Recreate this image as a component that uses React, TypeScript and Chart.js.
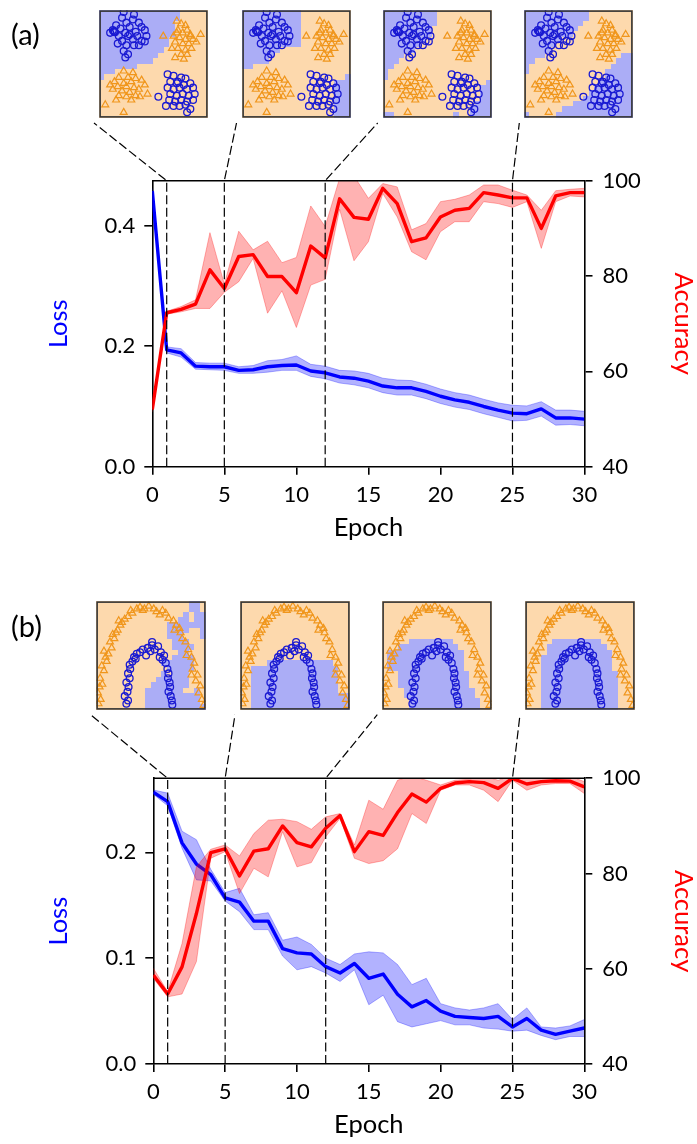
import React, { useEffect, useRef } from 'react';
import { Chart, registerables } from 'chart.js';

Chart.register(...registerables);

const FONT = 'Lato, "Open Sans", "DejaVu Sans", sans-serif';
const PAGE_W = 697;
const PAGE_H = 1144;

// ---------- main chart data ----------
const EPOCHS = [0, 1, 2, 3, 4, 5, 6, 7, 8, 9, 10, 11, 12, 13, 14, 15, 16, 17, 18, 19, 20, 21, 22, 23, 24, 25, 26, 27, 28, 29, 30];
const X_TICKS = [0, 5, 10, 15, 20, 25, 30];
const ACC_TICKS = [40, 60, 80, 100];
const MARK_EPOCHS = [1, 5, 12, 25];

// panel (a)
const A_LOSS_TICKS = [0, 0.2, 0.4];
const A_LOSS_MAX = 0.475;
const A_LOSS = [0.458, 0.194, 0.189, 0.167, 0.166, 0.166, 0.160, 0.161, 0.166, 0.168, 0.169, 0.159, 0.156, 0.149, 0.147, 0.142, 0.134, 0.131, 0.131, 0.125, 0.117, 0.111, 0.107, 0.100, 0.094, 0.089, 0.088, 0.096, 0.081, 0.081, 0.079];
const A_LOSS_HI = [0.462, 0.199, 0.196, 0.173, 0.172, 0.172, 0.166, 0.168, 0.176, 0.178, 0.184, 0.170, 0.167, 0.160, 0.159, 0.155, 0.147, 0.144, 0.143, 0.137, 0.129, 0.123, 0.119, 0.112, 0.106, 0.102, 0.101, 0.108, 0.094, 0.094, 0.092];
const A_LOSS_LO = [0.454, 0.189, 0.182, 0.162, 0.161, 0.160, 0.155, 0.155, 0.157, 0.160, 0.160, 0.150, 0.146, 0.139, 0.136, 0.131, 0.123, 0.119, 0.119, 0.113, 0.105, 0.099, 0.095, 0.088, 0.082, 0.076, 0.077, 0.084, 0.069, 0.070, 0.068];
const A_ACC = [52.0, 72.3, 73.0, 74.1, 81.3, 77.4, 84.1, 84.5, 79.9, 79.9, 76.5, 86.3, 83.8, 96.2, 92.3, 91.9, 98.4, 95.2, 87.2, 88.0, 92.4, 93.8, 94.2, 97.5, 97.0, 96.4, 96.4, 90.0, 96.8, 97.5, 97.5];
const A_ACC_HI = [52.5, 72.6, 73.6, 75.0, 89.1, 78.3, 89.4, 85.5, 87.3, 82.8, 83.9, 94.7, 90.4, 100.5, 101.0, 96.3, 99.4, 98.7, 89.7, 91.0, 95.6, 96.1, 97.0, 99.1, 99.1, 98.0, 97.0, 93.8, 97.9, 98.2, 98.4];
const A_ACC_LO = [51.5, 72.0, 72.5, 73.2, 73.2, 76.6, 78.8, 83.7, 72.2, 76.9, 69.2, 78.1, 79.3, 94.0, 83.2, 87.2, 97.3, 92.4, 85.1, 83.4, 89.3, 91.4, 91.4, 95.6, 95.2, 94.4, 95.6, 85.8, 95.6, 96.8, 96.6];

// panel (b)
const B_LOSS_TICKS = [0, 0.1, 0.2];
const B_LOSS_MAX = 0.27;
const B_LOSS = [0.257, 0.248, 0.209, 0.189, 0.179, 0.157, 0.153, 0.135, 0.135, 0.109, 0.105, 0.104, 0.092, 0.086, 0.095, 0.081, 0.085, 0.066, 0.054, 0.060, 0.050, 0.045, 0.044, 0.043, 0.045, 0.035, 0.043, 0.032, 0.028, 0.031, 0.034];
const B_LOSS_HI = [0.259, 0.256, 0.220, 0.212, 0.184, 0.162, 0.166, 0.141, 0.143, 0.117, 0.120, 0.113, 0.100, 0.094, 0.104, 0.106, 0.105, 0.094, 0.075, 0.081, 0.057, 0.053, 0.051, 0.053, 0.057, 0.042, 0.053, 0.035, 0.034, 0.036, 0.042];
const B_LOSS_LO = [0.255, 0.244, 0.204, 0.174, 0.173, 0.154, 0.144, 0.127, 0.127, 0.102, 0.089, 0.092, 0.086, 0.078, 0.089, 0.056, 0.065, 0.040, 0.035, 0.038, 0.041, 0.037, 0.037, 0.034, 0.033, 0.031, 0.032, 0.027, 0.023, 0.026, 0.026];
const B_ACC = [58.7, 54.7, 60.4, 71.6, 84.4, 85.2, 79.5, 84.7, 85.2, 90.0, 86.5, 85.6, 89.5, 92.2, 84.6, 88.8, 88.0, 92.8, 96.7, 95.0, 97.9, 99.0, 99.3, 99.1, 97.9, 100.0, 98.8, 99.3, 99.5, 99.4, 98.2];
const B_ACC_HI = [60.1, 55.2, 65.3, 81.4, 85.1, 86.0, 83.7, 88.4, 91.2, 91.4, 90.9, 89.3, 91.9, 92.6, 86.0, 95.4, 93.5, 99.6, 100.5, 99.6, 98.6, 99.6, 99.8, 100.5, 99.6, 100.5, 100.5, 100.5, 100.5, 100.5, 99.3];
const B_ACC_LO = [58.0, 54.1, 54.7, 61.5, 83.2, 84.6, 75.8, 81.1, 79.3, 88.8, 81.4, 82.3, 87.7, 91.6, 83.2, 82.1, 82.7, 85.2, 92.6, 90.5, 97.5, 98.6, 98.6, 97.5, 95.1, 99.6, 97.5, 98.6, 98.9, 98.9, 96.8];

// ---------- inset data (coordinates on a 0..20 square) ----------
const A_BLUE_TL = [[4.5, 19.7], [6.4, 19.2], [6.2, 18.3], [4.2, 18.6], [5.0, 17.7], [7.3, 17.7], [3.1, 17.2], [3.9, 16.6], [5.6, 16.9], [7.8, 16.9], [2.8, 16.0], [2.5, 16.3], [2.7, 16.1], [2.9, 15.9], [4.8, 15.8], [6.7, 16.0], [8.4, 16.3], [3.6, 15.2], [5.3, 15.2], [7.0, 15.2], [6.2, 14.6], [4.2, 14.3], [7.8, 14.3], [3.4, 13.8], [5.0, 13.5], [6.4, 13.5], [8.4, 14.2], [4.5, 12.4], [5.3, 11.8], [4.8, 11.2], [5.6, 15.5], [7.3, 13.5], [2.0, 15.8], [8.7, 15.2]];
const A_ORANGE_TR = [[14.3, 18.0], [15.1, 17.5], [15.9, 17.2], [16.2, 16.3], [14.5, 16.3], [15.4, 15.8], [16.8, 15.5], [13.7, 15.2], [14.8, 14.9], [15.9, 14.6], [17.3, 14.6], [14.0, 14.1], [15.4, 13.8], [16.5, 13.8], [17.9, 14.1], [14.5, 12.9], [15.9, 12.6], [17.0, 12.9], [15.1, 11.8], [14.0, 11.2], [16.2, 11.8], [11.8, 15.2], [18.7, 15.5], [13.4, 12.9], [15.6, 10.9], [16.8, 15.2], [14.3, 15.8]];
const A_ORANGE_BL = [[4.5, 8.7], [6.2, 8.4], [3.6, 7.5], [5.3, 7.5], [6.7, 7.3], [2.8, 6.7], [4.5, 6.4], [5.9, 6.7], [7.8, 7.0], [3.4, 5.8], [5.0, 5.8], [6.4, 5.6], [2.5, 5.3], [4.2, 5.0], [5.6, 4.7], [7.3, 5.3], [3.6, 4.1], [5.0, 3.9], [6.7, 4.1], [8.4, 6.1], [8.9, 4.4], [1.1, 2.4], [4.5, 1.0], [3.1, 3.3], [5.9, 3.3], [2.0, 6.1], [7.5, 3.9]];
const A_BLUE_BR = [[12.6, 8.1], [13.7, 7.8], [15.1, 7.5], [15.9, 7.3], [13.1, 6.7], [14.3, 6.4], [15.6, 6.1], [16.8, 6.4], [12.6, 5.6], [13.7, 5.3], [14.8, 5.6], [16.2, 5.3], [17.3, 5.6], [13.1, 4.4], [14.3, 4.1], [15.4, 4.4], [16.5, 4.1], [17.6, 4.4], [12.9, 3.3], [14.0, 3.0], [15.1, 3.3], [16.2, 3.0], [13.7, 2.2], [14.8, 2.2], [15.9, 2.4], [16.8, 1.6], [16.2, 1.0], [10.9, 3.9], [14.5, 6.7], [12.3, 2.2], [17.3, 3.3]];

const B_ORANGE_MOON = [[0.4, 1.1], [0.8, 1.9], [0.3, 3.1], [0.6, 4.2], [1.1, 4.7], [0.7, 5.8], [1.4, 7.2], [1.0, 8.1], [1.9, 8.9], [1.7, 9.7], [2.2, 10.3], [1.4, 10.8], [2.8, 11.4], [2.5, 12.5], [3.3, 13.1], [3.0, 13.9], [3.6, 14.2], [3.9, 14.7], [4.4, 15.6], [4.7, 16.1], [4.1, 16.4], [5.2, 16.7], [5.8, 17.2], [6.6, 17.8], [6.3, 18.3], [7.4, 18.6], [8.0, 18.9], [8.5, 18.3], [8.8, 18.6], [9.6, 19.1], [10.5, 18.6], [11.0, 18.1], [11.6, 17.5], [12.1, 18.3], [12.7, 17.8], [13.2, 16.9], [14.1, 16.4], [14.6, 15.6], [15.2, 15.0], [14.3, 14.7], [15.4, 14.2], [15.7, 13.1], [16.3, 12.5], [16.8, 11.1], [16.5, 10.0], [17.4, 9.7], [17.9, 8.6], [17.6, 7.5], [18.5, 6.4], [17.4, 6.4], [18.2, 5.3], [19.0, 4.4], [18.7, 3.1], [19.3, 1.9], [19.6, 0.8]];
const B_BLUE_MOON = [[5.5, 1.1], [5.8, 1.7], [5.2, 2.5], [5.7, 3.3], [5.9, 4.2], [5.5, 5.0], [6.1, 5.8], [5.8, 6.7], [6.2, 7.5], [6.1, 8.3], [6.6, 8.9], [6.9, 9.7], [7.2, 9.4], [7.4, 10.3], [8.0, 10.6], [8.5, 11.1], [9.4, 11.4], [9.1, 10.0], [9.9, 10.8], [10.2, 11.9], [10.2, 12.5], [10.7, 11.1], [11.3, 11.7], [11.6, 9.7], [11.8, 10.6], [12.4, 10.0], [12.1, 9.2], [12.7, 8.6], [13.0, 7.5], [13.2, 6.7], [13.1, 5.8], [13.4, 5.0], [13.5, 4.2], [13.2, 3.3], [13.6, 2.5], [13.8, 1.7], [13.9, 0.9]];

// decision-region grids (row 0 = top), run-length rows of B (blue class) / O (orange class)
const A1_GRID = ['15B5O', '15B5O', '14B6O', '14B6O', '14B6O', '13B7O', '13B7O', '12B8O', '11B9O', '10B10O', '7B13O', '3B17O', '1B19O', '20O', '20O', '20O', '20O', '20O', '20O', '20O'];
const A2_GRID = ['11B9O', '11B9O', '11B9O', '11B9O', '11B9O', '11B9O', '11B9O', '7B13O', '6B14O', '5B15O', '2B18O', '20O', '19O1B', '17O3B', '17O3B', '17O3B', '17O3B', '17O3B', '17O3B', '17O3B'];
const A3_GRID = ['10B10O', '10B10O', '10B10O', '9B11O', '9B11O', '8B12O', '7B13O', '6B14O', '4B16O', '3B17O', '2B18O', '1B19O', '1B19O', '19O1B', '18O2B', '18O2B', '18O2B', '17O3B', '16O4B', '2B11O1B2O4B'];
const A4_GRID = ['12B8O', '12B8O', '11B9O', '10B10O', '9B11O', '7B13O', '6B14O', '5B15O', '4B14O2B', '2B15O3B', '1B15O4B', '1B14O5B', '15O5B', '14O6B', '13O7B', '12O8B', '11O9B', '9O11B', '7O13B', '1B5O14B'];
const B1_GRID = ['17O2B1O', '17O2B1O', '16O1B1O2B', '15O2B1O2B', '13O7B', '13O4B2O1B', '13O3B3O1B', '14O3B3O', '14O4B2O', '15O2B3O', '14O4B2O', '12O6B2O', '13O5B2O', '12O1B1O3B3O', '11O6B3O', '10O7B3O', '9O7B2O1B1O', '9O10B1O', '9O10B1O', '9O11B'];
const B2_GRID = ['20O', '20O', '20O', '20O', '20O', '20O', '20O', '20O', '20O', '20O', '20O', '5O12B3O', '2O16B2O', '2O16B2O', '2O16B2O', '2O16B2O', '2O16B2O', '2O18B', '2O18B', '2O18B'];
const B3_GRID = ['20O', '20O', '20O', '20O', '20O', '20O', '20O', '5O8B7O', '3O11B6O', '1O14B5O', '1O14B5O', '1O14B5O', '1O14B5O', '3O13B4O', '3O13B4O', '3O13B4O', '4O13B3O', '4O13B3O', '5O13B2O', '5O13B2O'];
const B4_GRID = ['20O', '20O', '20O', '20O', '20O', '20O', '20O', '5O9B6O', '4O11B5O', '4O12B4O', '3O13B4O', '3O13B4O', '3O13B4O', '3O14B3O', '3O14B3O', '3O14B3O', '3O14B3O', '3O14B3O', '3O14B3O', '3O14B3O'];

const GRID_N = 20;
const BG_BLUE = '#abadf6';
const BG_ORANGE = '#fdd9ad';
const PT_BLUE = '#1a1ad2';
const PT_ORANGE = '#f0961c';

// ---------- layout ----------
const A_INSETS = [
  { x: 94, y: 5, w: 119, h: 118 },
  { x: 236.5, y: 5, w: 119, h: 118 },
  { x: 377.7, y: 5, w: 119, h: 118 },
  { x: 519.3, y: 5, w: 119, h: 118 },
];
const B_INSETS = [
  { x: 90.7, y: 595.7, w: 120, h: 119 },
  { x: 235, y: 595.7, w: 120, h: 119 },
  { x: 377.3, y: 595.7, w: 120, h: 119 },
  { x: 520, y: 595.7, w: 120, h: 119 },
];

function decodeGrid(rows: string[]): string[][] {
  return rows.map((s) => {
    const out: string[] = [];
    s.replace(/(\d+)([BO])/g, (_m, n, c) => {
      for (let i = 0; i < Number(n); i++) out.push(c);
      return '';
    });
    return out.slice(0, GRID_N);
  });
}

type Rect = { x: number; y: number; w: number; h: number };
type Plot = { left: number; right: number; top: number; bottom: number };

function Panel(props: {
  top: number;
  height: number;
  plot: Plot;
  loss: number[];
  lossHi: number[];
  lossLo: number[];
  acc: number[];
  accHi: number[];
  accLo: number[];
  lossMax: number;
  lossTicks: number[];
  insets: Rect[];
}) {
  const ref = useRef<HTMLCanvasElement>(null);
  const { top, height, plot } = props;
  useEffect(() => {
    const xy = (arr: number[]) => arr.map((v, i) => ({ x: EPOCHS[i], y: v }));
    const tickGrid = {
      display: true,
      drawOnChartArea: false,
      drawTicks: true,
      tickLength: 8,
      tickWidth: 1.6,
      lineWidth: 1.6,
      color: '#000',
    };
    const border = { display: true, color: '#000', width: 1.6 };
    const tickFont = { family: FONT, size: 22 };
    const titleFont = { family: FONT, size: 25.5, lineHeight: 1 };
    const corners = props.insets.map((r) => ({ x: r.x, y: r.y + r.h - top }));

    const overlay = {
      id: 'overlay',
      afterDatasetsDraw(chart: any) {
        const { ctx, chartArea: ca, scales } = chart;
        ctx.save();
        ctx.strokeStyle = '#000';
        ctx.lineWidth = 1.6;
        ctx.beginPath();
        ctx.moveTo(ca.left, ca.top);
        ctx.lineTo(ca.right, ca.top);
        ctx.stroke();
        ctx.lineWidth = 1.2;
        ctx.setLineDash([9, 3.5]);
        MARK_EPOCHS.forEach((e, i) => {
          const x = scales.x.getPixelForValue(e);
          ctx.beginPath();
          ctx.moveTo(x, ca.bottom);
          ctx.lineTo(x, ca.top);
          ctx.lineTo(corners[i].x, corners[i].y);
          ctx.stroke();
        });
        ctx.restore();
      },
    };

    const base = { pointRadius: 0, tension: 0, borderJoinStyle: 'round' as const };
    const chart = new Chart(ref.current!, {
      type: 'line',
      data: {
        datasets: [
          { ...base, label: 'Accuracy', data: xy(props.acc), yAxisID: 'y1', borderColor: '#ff0000', borderWidth: 3.4, fill: false, order: 0 },
          { ...base, label: 'acc hi', data: xy(props.accHi), yAxisID: 'y1', borderColor: 'rgba(255,0,0,0.3)', borderWidth: 1, backgroundColor: 'rgba(255,0,0,0.3)', fill: '+1', order: 1 },
          { ...base, label: 'acc lo', data: xy(props.accLo), yAxisID: 'y1', borderColor: 'rgba(255,0,0,0.3)', borderWidth: 1, fill: false, order: 2 },
          { ...base, label: 'Loss', data: xy(props.loss), yAxisID: 'y', borderColor: '#0000ff', borderWidth: 3.4, fill: false, order: 3 },
          { ...base, label: 'loss hi', data: xy(props.lossHi), yAxisID: 'y', borderColor: 'rgba(0,0,255,0.3)', borderWidth: 1, backgroundColor: 'rgba(0,0,255,0.3)', fill: '+1', order: 4 },
          { ...base, label: 'loss lo', data: xy(props.lossLo), yAxisID: 'y', borderColor: 'rgba(0,0,255,0.3)', borderWidth: 1, fill: false, order: 5 },
        ],
      },
      options: {
        animation: false,
        responsive: false,
        devicePixelRatio: 1,
        events: [],
        layout: { padding: { top: plot.top - top, left: 0, right: 0, bottom: 0 } },
        plugins: { legend: { display: false }, tooltip: { enabled: false } },
        scales: {
          x: {
            type: 'linear',
            min: 0,
            max: 30,
            afterBuildTicks: (s: any) => {
              s.ticks = X_TICKS.map((v) => ({ value: v }));
            },
            afterFit: (s: any) => {
              s.height = top + height - plot.bottom;
            },
            ticks: { font: tickFont, color: '#000', padding: 7, maxRotation: 0, autoSkip: false },
            grid: tickGrid,
            border,
            title: { display: true, text: 'Epoch', color: '#000', font: titleFont, padding: { top: 0, bottom: 6.5 } },
          },
          y: {
            type: 'linear',
            position: 'left',
            min: 0,
            max: props.lossMax,
            afterBuildTicks: (s: any) => {
              s.ticks = props.lossTicks.map((v) => ({ value: v }));
            },
            afterFit: (s: any) => {
              s.width = plot.left;
            },
            ticks: { font: tickFont, color: '#000', padding: 9, callback: (v: any) => Number(v).toFixed(1) },
            grid: tickGrid,
            border,
            title: { display: true, text: 'Loss', color: '#0000ff', font: titleFont, padding: { top: 46, bottom: 0 } },
          },
          y1: {
            type: 'linear',
            position: 'right',
            min: 40,
            max: 100,
            afterBuildTicks: (s: any) => {
              s.ticks = ACC_TICKS.map((v) => ({ value: v }));
            },
            afterFit: (s: any) => {
              s.width = PAGE_W - plot.right;
            },
            ticks: { font: tickFont, color: '#000', padding: 10 },
            grid: tickGrid,
            border,
            title: { display: true, text: 'Accuracy', color: '#ff0000', font: titleFont, padding: { top: 1, bottom: 0 } },
          },
        },
      } as any,
      plugins: [overlay],
    });
    return () => chart.destroy();
  }, []);
  return (
    <canvas
      ref={ref}
      width={PAGE_W}
      height={height}
      style={{ position: 'absolute', left: 0, top, width: PAGE_W, height }}
    />
  );
}

function Inset(props: { rect: Rect; grid: string[]; blue: number[][][]; orange: number[][][] }) {
  const ref = useRef<HTMLCanvasElement>(null);
  const { rect } = props;
  useEffect(() => {
    const cells = decodeGrid(props.grid);
    const cellPlugin = {
      id: 'cells',
      beforeDatasetsDraw(chart: any) {
        const { ctx, scales } = chart;
        const sx = scales.x;
        const sy = scales.y;
        ctx.save();
        cells.forEach((row, r) =>
          row.forEach((c, k) => {
            const x0 = Math.floor(sx.getPixelForValue(k));
            const x1 = Math.ceil(sx.getPixelForValue(k + 1));
            const y0 = Math.floor(sy.getPixelForValue(GRID_N - r));
            const y1 = Math.ceil(sy.getPixelForValue(GRID_N - r - 1));
            ctx.fillStyle = c === 'B' ? BG_BLUE : BG_ORANGE;
            ctx.fillRect(x0, y0, x1 - x0, y1 - y0);
          })
        );
        ctx.restore();
      },
      afterDraw(chart: any) {
        const { ctx, chartArea: ca } = chart;
        ctx.save();
        ctx.strokeStyle = '#333333';
        ctx.lineWidth = 1.6;
        ctx.strokeRect(ca.left + 0.8, ca.top + 0.8, ca.right - ca.left - 1.6, ca.bottom - ca.top - 1.6);
        ctx.restore();
      },
    };
    const toXY = (groups: number[][][]) => groups.flat().map(([x, y]) => ({ x, y }));
    const chart = new Chart(ref.current!, {
      type: 'scatter',
      data: {
        datasets: [
          {
            label: 'class 0',
            data: toXY(props.orange),
            pointStyle: 'triangle',
            pointRadius: 4,
            borderColor: PT_ORANGE,
            backgroundColor: 'rgba(0,0,0,0)',
            borderWidth: 1.2,
          },
          {
            label: 'class 1',
            data: toXY(props.blue),
            pointStyle: 'circle',
            pointRadius: 3.4,
            borderColor: PT_BLUE,
            backgroundColor: 'rgba(0,0,0,0)',
            borderWidth: 1.3,
          },
        ],
      },
      options: {
        animation: false,
        responsive: false,
        devicePixelRatio: 1,
        events: [],
        layout: { padding: 0 },
        plugins: { legend: { display: false }, tooltip: { enabled: false } },
        scales: {
          x: { type: 'linear', min: 0, max: GRID_N, display: false },
          y: { type: 'linear', min: 0, max: GRID_N, display: false },
        },
      } as any,
      plugins: [cellPlugin],
    });
    return () => chart.destroy();
  }, []);
  return (
    <canvas
      ref={ref}
      width={Math.round(rect.w)}
      height={Math.round(rect.h)}
      style={{ position: 'absolute', left: rect.x, top: rect.y, width: Math.round(rect.w), height: Math.round(rect.h) }}
    />
  );
}

const labelStyle = (top: number): React.CSSProperties => ({
  position: 'absolute',
  left: 11,
  top,
  fontFamily: FONT,
  fontSize: 29,
  lineHeight: '34px',
  color: '#000',
});

export default function App() {
  const aGrids = [A1_GRID, A2_GRID, A3_GRID, A4_GRID];
  const bGrids = [B1_GRID, B2_GRID, B3_GRID, B4_GRID];
  return (
    <div style={{ position: 'absolute', left: 0, top: 0, width: PAGE_W, height: PAGE_H, background: '#fff', overflow: 'hidden' }}>
      <Panel
        top={0}
        height={547}
        plot={{ left: 152.3, right: 584.5, top: 180.7, bottom: 466.7 }}
        loss={A_LOSS}
        lossHi={A_LOSS_HI}
        lossLo={A_LOSS_LO}
        acc={A_ACC}
        accHi={A_ACC_HI}
        accLo={A_ACC_LO}
        lossMax={A_LOSS_MAX}
        lossTicks={A_LOSS_TICKS}
        insets={A_INSETS}
      />
      <Panel
        top={570}
        height={574}
        plot={{ left: 153.3, right: 584.3, top: 778.3, bottom: 1064 }}
        loss={B_LOSS}
        lossHi={B_LOSS_HI}
        lossLo={B_LOSS_LO}
        acc={B_ACC}
        accHi={B_ACC_HI}
        accLo={B_ACC_LO}
        lossMax={B_LOSS_MAX}
        lossTicks={B_LOSS_TICKS}
        insets={B_INSETS}
      />
      {A_INSETS.map((r, i) => (
        <Inset key={'a' + i} rect={r} grid={aGrids[i]} blue={[A_BLUE_TL, A_BLUE_BR]} orange={[A_ORANGE_TR, A_ORANGE_BL]} />
      ))}
      {B_INSETS.map((r, i) => (
        <Inset key={'b' + i} rect={r} grid={bGrids[i]} blue={[B_BLUE_MOON]} orange={[B_ORANGE_MOON]} />
      ))}
      <div style={labelStyle(17)}>(a)</div>
      <div style={labelStyle(609)}>(b)</div>
    </div>
  );
}
